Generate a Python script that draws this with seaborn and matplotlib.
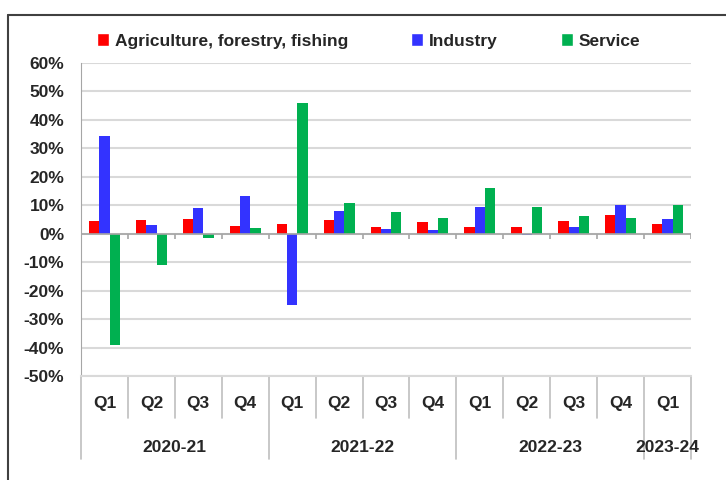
import pandas as pd
import matplotlib.pyplot as plt
import matplotlib.transforms as mtransforms
from matplotlib.lines import Line2D
from matplotlib.patches import Patch
import seaborn as sns

# data (growth, %)
years = ['2020-21', '2021-22', '2022-23', '2023-24']
quarters = ['Q1', 'Q2', 'Q3', 'Q4', 'Q1', 'Q2', 'Q3', 'Q4', 'Q1', 'Q2', 'Q3', 'Q4', 'Q1']
year_idx = [0, 0, 0, 0, 1, 1, 1, 1, 2, 2, 2, 2, 3]
agriculture = [4.5, 4.9, 5.3, 2.8, 3.3, 4.7, 2.2, 4.0, 2.3, 2.5, 4.6, 6.7, 3.4]
industry = [34.2, 3.2, 9.1, 13.4, -25.2, 8.0, 1.5, 1.2, 9.3, -0.6, 2.2, 10.0, 5.3]
service = [-39.0, -11.0, -1.4, 2.0, 45.8, 10.9, 7.5, 5.4, 16.2, 9.3, 6.1, 5.6, 10.2]
sectors = ['Agriculture, forestry, fishing', 'Industry', 'Service']
colors = ['#FF0000', '#3333FF', '#00B050']

periods = [years[y] + ' ' + q for y, q in zip(year_idx, quarters)]
rows = []
for name, vals in zip(sectors, [agriculture, industry, service]):
    for p, v in zip(periods, vals):
        rows.append({'period': p, 'sector': name, 'value': v})
df = pd.DataFrame(rows)

sns.set_style('white')
plt.rcParams['font.family'] = ['Liberation Sans', 'DejaVu Sans']
plt.rcParams['font.weight'] = 'bold'
fs = 12.5

fig = plt.figure(figsize=(7.26, 4.8), dpi=100)
ax = fig.add_axes([81 / 726, 1 - 376 / 480, 610 / 726, 313 / 480])

sns.barplot(data=df, x='period', y='value', hue='sector', order=periods,
            hue_order=sectors, palette=colors, width=0.66, saturation=1,
            linewidth=0, legend=False, ax=ax)

ax.set_xlim(-0.5, len(periods) - 0.5)
ax.set_ylim(-50, 60)
yt = list(range(-50, 61, 10))
ax.set_yticks(yt)
ax.set_yticklabels([f'{v}%' for v in yt], fontsize=fs, fontweight='bold')
ax.tick_params(axis='y', length=6, color='#A6A6A6', pad=6)
ax.set_xticks([])
ax.set_xlabel('')
ax.set_ylabel('')
ax.yaxis.grid(True, color='#D9D9D9', linewidth=1.5)
ax.set_axisbelow(True)
for s in ['top', 'right']:
    ax.spines[s].set_visible(False)
ax.spines['left'].set_color('#A6A6A6')
ax.spines['bottom'].set_color('#D9D9D9')
ax.spines['bottom'].set_linewidth(1.5)

# zero line with ticks at category boundaries
bounds = [i - 0.5 for i in range(len(periods) + 1)]
ax.axhline(0, color='#A6A6A6', linewidth=1.2, zorder=1)
ax.vlines(bounds, -1.8, 0, color='#A6A6A6', linewidth=1.2, zorder=1)

# multi-level category labels under the plot
tr = mtransforms.blended_transform_factory(ax.transData, ax.transAxes)
for i, q in enumerate(quarters):
    ax.text(i, -0.087, q, transform=tr, ha='center', va='center',
            fontsize=fs, fontweight='bold')
year_starts = [year_idx.index(k) for k in range(len(years))]
for b in bounds:
    long = (b + 0.5) in year_starts or b == bounds[-1]
    ax.plot([b, b], [0, -0.265 if long else -0.134], transform=tr,
            color='#BFBFBF', linewidth=1.2, clip_on=False)
for k, y in enumerate(years):
    idx = [i for i, yy in enumerate(year_idx) if yy == k]
    ax.text(sum(idx) / len(idx), -0.227, y, transform=tr, ha='center',
            va='center', fontsize=fs, fontweight='bold')

# legend
handles = [Patch(facecolor=c, label=s) for c, s in zip(colors, sectors)]
fig.legend(handles=handles, ncol=3, loc='center left',
           bbox_to_anchor=(97 / 726, 1 - 41 / 480), frameon=False,
           borderpad=0, borderaxespad=0, handlelength=0.7, handleheight=0.7,
           handletextpad=0.35, columnspacing=3.6,
           prop={'size': fs, 'weight': 'bold'})

# outer frame of the chart
fig.add_artist(Line2D([8 / 726, 8 / 726], [0, 1 - 15 / 480], color='#404040', linewidth=1.5))
fig.add_artist(Line2D([8 / 726, 1], [1 - 15 / 480, 1 - 15 / 480], color='#404040', linewidth=1.5))

fig.savefig('out.png', dpi=100)
